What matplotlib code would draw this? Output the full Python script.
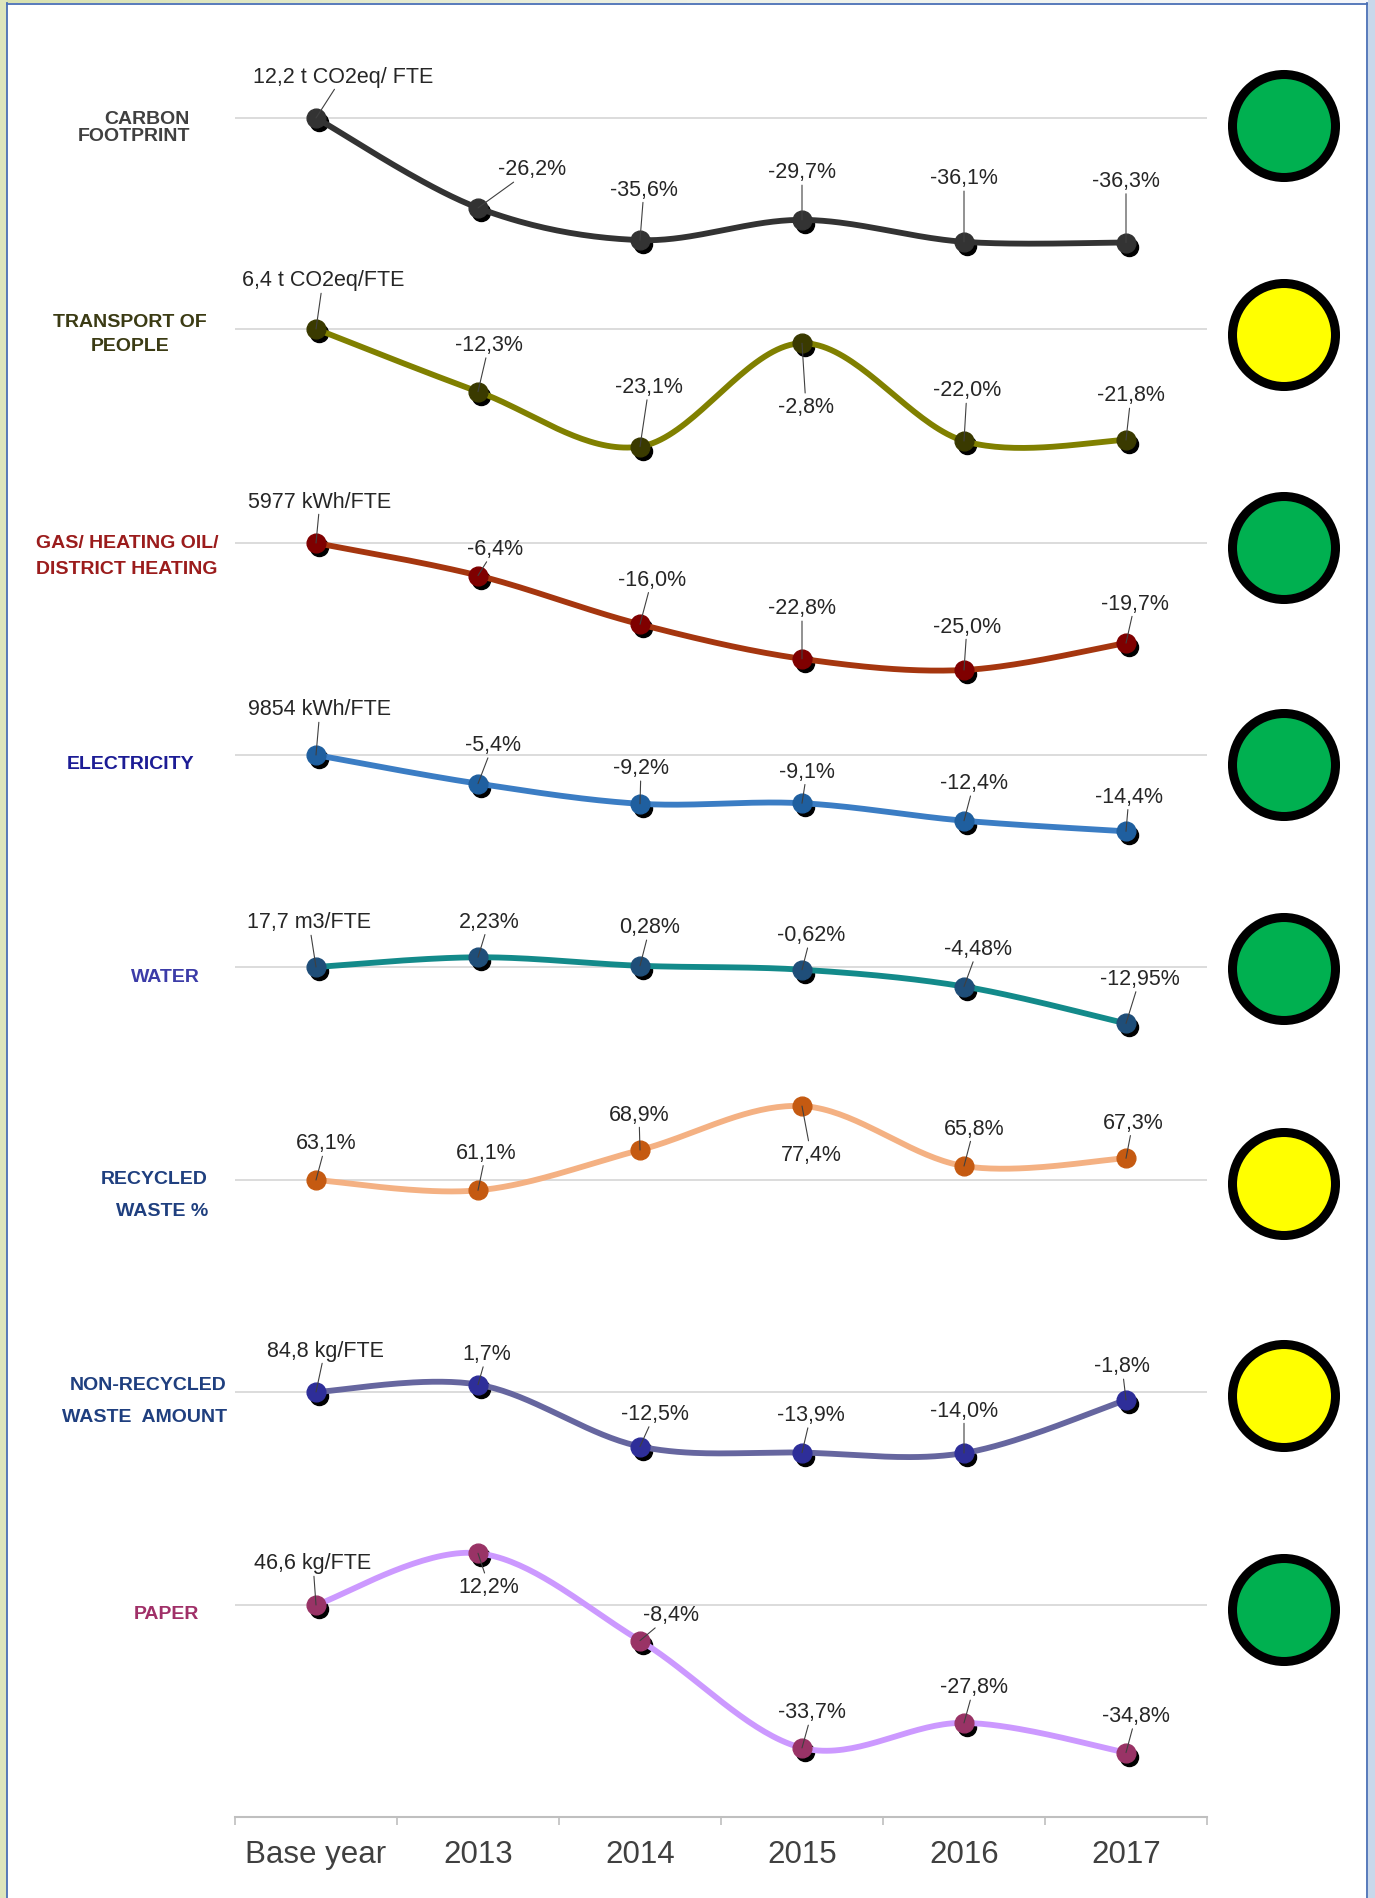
import matplotlib.pyplot as plt
import numpy as np
from matplotlib.patches import Circle, Rectangle
from matplotlib.colors import LinearSegmentedColormap
from matplotlib.transforms import offset_copy

plt.rcParams['font.family'] = ['Liberation Sans', 'DejaVu Sans']

# indicator values: change vs. base year in %, recycled waste as share in %
years = ["Base year", "2013", "2014", "2015", "2016", "2017"]
carbon = [0, -26.2, -35.6, -29.7, -36.1, -36.3]
transport = [0, -12.3, -23.1, -2.8, -22.0, -21.8]
heating = [0, -6.4, -16.0, -22.8, -25.0, -19.7]
electricity = [0, -5.4, -9.2, -9.1, -12.4, -14.4]
water = [0, 2.23, 0.28, -0.62, -4.48, -12.95]
recycled = [63.1, 61.1, 68.9, 77.4, 65.8, 67.3]
non_recycled = [0, 1.7, -12.5, -13.9, -14.0, -1.8]
paper = [0, 12.2, -8.4, -33.7, -27.8, -34.8]

base_texts = ["12,2 t CO2eq/ FTE", "6,4 t CO2eq/FTE", "5977 kWh/FTE", "9854 kWh/FTE",
              "17,7 m3/FTE", None, "84,8 kg/FTE", "46,6 kg/FTE"]
status = ["green", "yellow", "green", "green", "green", "yellow", "yellow", "green"]

W, H = 1375, 1899
DPI = 100
X0, X1 = 235, 1207

status_fc = {"green": "#00b050", "yellow": "#ffff00"}

rows = [
    dict(values=carbon, dec=1, line="#333333", mark="#333333", shadow=True,
         base=119, scale=3.43, circle=127,
         name=[("CARBON", 190, 119, "right"), ("FOOTPRINT", 190, 136, "right")], ncolor="#404040",
         offs=[(27, -42), (54, -39), (4, -51), (0, -48), (0, -64), (0, -62)]),
    dict(values=transport, dec=1, line="#808000", mark="#3a3a00", shadow=True,
         base=330, scale=5.09, circle=336,
         name=[("TRANSPORT OF", 130, 322, "center"), ("PEOPLE", 130, 346, "center")], ncolor="#3b3b14",
         offs=[(7, -49), (11, -47), (9, -60), (4, 63), (3, -51), (5, -45)]),
    dict(values=heating, dec=1, line="#a5360f", mark="#7f0000", shadow=True,
         base=544, scale=5.08, circle=549,
         name=[("GAS/ HEATING OIL/", 127, 543, "center"), ("DISTRICT HEATING", 127, 569, "center")],
         ncolor="#9b1c1c",
         offs=[(4, -42), (17, -27), (12, -45), (0, -51), (3, -44), (9, -40)]),
    dict(values=electricity, dec=1, line="#3b7dc4", mark="#1f5f9f", shadow=True,
         base=756, scale=5.3, circle=766,
         name=[("ELECTRICITY", 131, 764, "center")], ncolor="#1c1c95",
         offs=[(4, -46), (15, -39), (1, -36), (5, -32), (10, -38), (3, -35)]),
    dict(values=water, dec=2, line="#138a8a", mark="#1f4e79", shadow=True,
         base=968, scale=4.36, circle=970,
         name=[("WATER", 165, 978, "center")], ncolor="#3c3ca8",
         offs=[(-7, -45), (11, -36), (10, -39), (9, -35), (14, -38), (14, -45)]),
    dict(values=recycled, dec=1, line="#f4b183", mark="#c55a11", shadow=False,
         base=1181, scale=5.17, circle=1185,
         name=[("RECYCLED", 208, 1179, "right"), ("WASTE %", 208, 1212, "right")], ncolor="#1f3f7f",
         offs=[(10, -37), (8, -38), (-1, -36), (9, 48), (10, -38), (7, -36)]),
    dict(values=non_recycled, dec=1, line="#66669f", mark="#2e2e99", shadow=True,
         base=1393, scale=4.36, circle=1397,
         name=[("NON-RECYCLED", 227, 1385, "right"), ("WASTE  AMOUNT", 227, 1417, "right")],
         ncolor="#1f3f7f",
         offs=[(9, -42), (9, -31), (15, -33), (9, -38), (0, -43), (-4, -34)]),
    dict(values=paper, dec=1, line="#cc99ff", mark="#993366", shadow=True,
         base=1606, scale=4.24, circle=1611,
         name=[("PAPER", 166, 1615, "center")], ncolor="#a03068",
         offs=[(-3, -42), (11, 33), (31, -26), (10, -36), (10, -36), (10, -37)]),
]


def smooth(xs, ys, n=40):
    # Catmull-Rom style bezier through every point
    x = np.asarray(xs, float)
    y = np.asarray(ys, float)
    px = np.concatenate([[x[0]], x, [x[-1]]])
    py = np.concatenate([[y[0]], y, [y[-1]]])
    t = np.linspace(0, 1, n)[:, None]
    pts = []
    for i in range(1, len(px) - 2):
        p0 = np.array([px[i - 1], py[i - 1]])
        p1 = np.array([px[i], py[i]])
        p2 = np.array([px[i + 1], py[i + 1]])
        p3 = np.array([px[i + 2], py[i + 2]])
        c1 = p1 + (p2 - p0) / 6
        c2 = p2 - (p3 - p1) / 6
        seg = ((1 - t) ** 3) * p1 + 3 * ((1 - t) ** 2) * t * c1 + 3 * (1 - t) * t ** 2 * c2 + t ** 3 * p2
        pts.append(seg if i == 1 else seg[1:])
    pts = np.vstack(pts)
    return pts[:, 0], pts[:, 1]


def fmt(v, dec):
    return f"{v:.{dec}f}%".replace(".", ",")


fig = plt.figure(figsize=(W / DPI, H / DPI), dpi=DPI, facecolor="white")

# page background, frame and traffic-light circles in pixel coordinates
bg = fig.add_axes([0, 0, 1, 1], zorder=-1)
bg.set_xlim(0, W)
bg.set_ylim(H, 0)
bg.axis("off")
top_cmap = LinearSegmentedColormap.from_list("top", ["#d9e2b0", "#eef1e6", "#f5f7fb"])
bg.imshow(np.linspace(0, 1, 256)[None, :], cmap=top_cmap, extent=(0, W, 4, 0), aspect="auto")
bg.add_patch(Rectangle((0, 0), 7, H, color="#dde5bc", lw=0))
bg.add_patch(Rectangle((1368, 0), 7, H, color="#c8d8eb", lw=0))
bg.plot([7, 1367], [4.5, 4.5], color="#4a6fb5", lw=1.3)
bg.plot([7.5, 7.5], [4, H], color="#4a6fb5", lw=1.3)
bg.plot([1367, 1367], [4, H], color="#4a6fb5", lw=1.3)

for row, st in zip(rows, status):
    bg.add_patch(Circle((1284, row["circle"]), 51.5, facecolor=status_fc[st],
                        edgecolor="black", lw=6.5))
    for txt, tx, ty, ha in row["name"]:
        bg.text(tx, ty, txt, ha=ha, va="center", fontsize=14, fontweight="bold",
                color=row["ncolor"])

xs = np.arange(len(years))
for i, row in enumerate(rows):
    vals = row["values"]
    ref = vals[0]
    b, s = row["base"], row["scale"]
    top, bot = b - 100, b + 112
    ax = fig.add_axes([X0 / W, 1 - bot / H, (X1 - X0) / W, (bot - top) / H])
    ax.patch.set_alpha(0)
    ax.set_xlim(-0.5, 5.5)
    ax.set_ylim(ref - 112 / s, ref + 100 / s)
    ax.axis("off")
    ax.axhline(ref, color="#d9d9d9", lw=1.3, zorder=1)

    sx, sy = smooth(xs, vals)
    if row["shadow"]:
        shadow_tr = offset_copy(ax.transData, fig=fig, x=3, y=-4, units="dots")
        ax.plot(xs, vals, "o", ms=13, color="black", transform=shadow_tr, zorder=2, clip_on=False)
    ax.plot(sx, sy, color=row["line"], lw=4.2, zorder=3, solid_capstyle="round", clip_on=False)
    ax.plot(xs, vals, "o", ms=13.5, color=row["mark"], zorder=4, clip_on=False)

    for j, (v, (dx, dy)) in enumerate(zip(vals, row["offs"])):
        if j == 0 and base_texts[i] is not None:
            label = base_texts[i]
        else:
            label = fmt(v, row["dec"])
        ax.annotate(label, xy=(j, v), xytext=(dx, -dy), textcoords="offset pixels",
                    ha="center", va="center", fontsize=15.5, color="#262626",
                    annotation_clip=False, zorder=5,
                    arrowprops=dict(arrowstyle="-", color="#404040", lw=0.8,
                                    shrinkA=0, shrinkB=0))

# shared category axis at the bottom
axx = fig.add_axes([X0 / W, 1 - 1818 / H, (X1 - X0) / W, 1 / H])
axx.patch.set_alpha(0)
axx.set_xlim(-0.5, 5.5)
for sp in ["top", "left", "right"]:
    axx.spines[sp].set_visible(False)
axx.spines["bottom"].set_color("#bfbfbf")
axx.spines["bottom"].set_linewidth(1.5)
axx.set_yticks([])
axx.set_xticks(np.arange(-0.5, 6, 1), [""] * 7)
axx.tick_params(axis="x", which="major", length=6, width=1.2, color="#bfbfbf")
axx.set_xticks(xs, years, minor=True)
axx.tick_params(axis="x", which="minor", length=0, pad=16, labelsize=22.5, labelcolor="#404040")

fig.savefig("out.png", dpi=DPI, facecolor="white")
